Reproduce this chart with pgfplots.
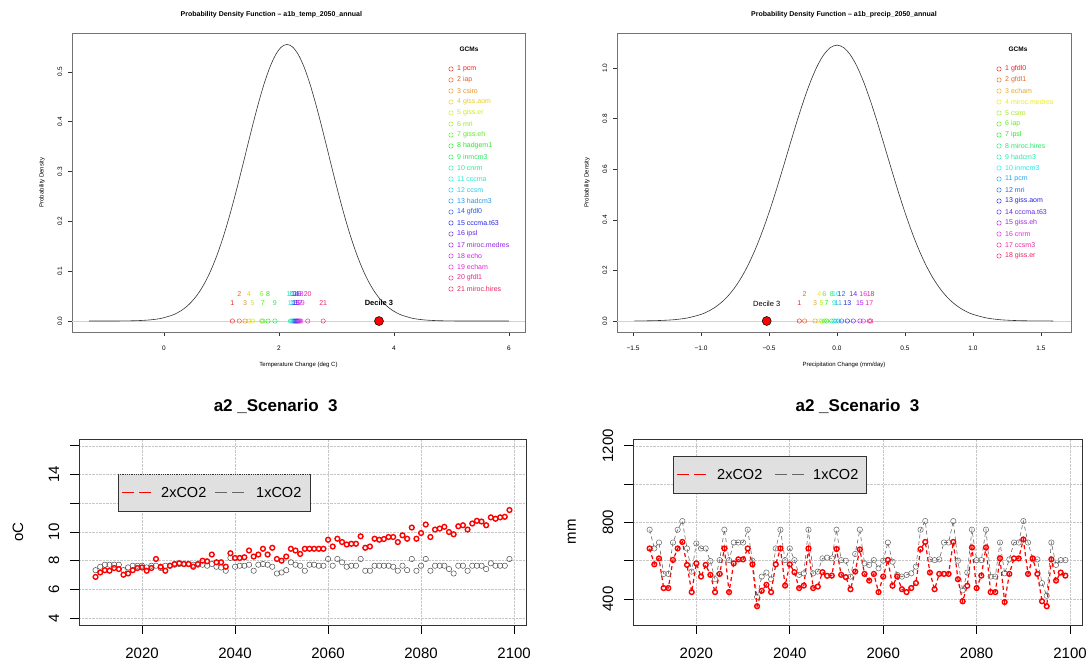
\documentclass[border=0pt]{standalone}
\usepackage{fontspec}
\setmainfont{Liberation Sans}
\usepackage[rgb]{xcolor}
\usepackage{pgfplots}
\usepackage{pgfplotstable}
\pgfplotsset{compat=1.18}

% rainbow colours for the GCM points (R's rainbow())
\foreach \i in {1,...,21}{\pgfmathsetmacro\hh{(\i-1)/21}%
  \edef\tmp{\noexpand\xglobal\noexpand\definecolor{L\i}{hsb}{\hh,0.85,0.92}}\tmp}
\foreach \i in {1,...,18}{\pgfmathsetmacro\hh{(\i-1)/18}%
  \edef\tmp{\noexpand\xglobal\noexpand\definecolor{R\i}{hsb}{\hh,0.85,0.92}}\tmp}

\newcommand\gpt[4]{% colour, value, label, label height
  \addplot[only marks, mark=o, mark size=2.2pt, line width=0.45pt, color=#1] coordinates {(#2,0)};
  \node[text=#1, font=\fontsize{7}{8}\selectfont, inner sep=0pt, yshift=#4] at (axis cs:#2,0) {#3};}

\pgfplotstableread{
year t2 t1
2010 6.87 7.34
2011 7.18 7.58
2012 7.34 7.72
2013 7.30 7.72
2014 7.49 7.72
2015 7.42 7.72
2016 7.02 7.34
2017 7.11 7.53
2018 7.34 7.65
2019 7.49 7.65
2020 7.53 7.65
2021 7.30 7.53
2022 7.49 7.65
2023 8.12 7.65
2024 7.58 7.49
2025 7.30 7.65
2026 7.65 7.65
2027 7.77 7.72
2028 7.82 7.77
2029 7.77 7.77
2030 7.77 7.77
2031 7.58 7.72
2032 7.77 7.72
2033 8.00 7.72
2034 7.96 7.65
2035 8.43 7.77
2036 7.89 7.58
2037 7.89 7.53
2038 7.58 7.30
2039 8.52 8.19
2040 8.19 7.58
2041 8.19 7.65
2042 8.24 7.65
2043 8.71 7.72
2044 8.29 7.30
2045 8.43 7.72
2046 8.83 7.77
2047 8.43 7.72
2048 8.90 7.58
2049 8.12 7.11
2050 8.00 7.18
2051 8.29 7.34
2052 8.83 7.89
2053 8.71 7.72
2054 8.47 7.65
2055 8.83 7.30
2056 8.83 7.72
2057 8.83 7.72
2058 8.83 7.65
2059 8.83 7.65
2060 9.46 8.12
2061 8.99 7.65
2062 9.53 8.12
2063 9.30 7.89
2064 9.13 7.58
2065 9.18 7.65
2066 9.18 7.65
2067 9.70 8.12
2068 8.90 7.30
2069 8.99 7.30
2070 9.53 7.65
2071 9.46 7.65
2072 9.51 7.65
2073 9.65 7.65
2074 9.65 7.58
2075 9.30 7.30
2076 9.77 7.65
2077 9.53 7.34
2078 10.31 8.12
2079 9.53 7.30
2080 9.93 7.65
2081 10.52 8.12
2082 9.65 7.30
2083 10.17 7.65
2084 10.24 7.65
2085 10.36 7.65
2086 10.00 7.42
2087 9.84 7.11
2088 10.40 7.65
2089 10.47 7.65
2090 10.17 7.30
2091 10.59 7.65
2092 10.78 7.65
2093 10.73 7.65
2094 10.47 7.42
2095 11.02 7.82
2096 10.92 7.65
2097 11.02 7.65
2098 11.06 7.65
2099 11.53 8.12
}\tempdata

\pgfplotstableread{
year p2 p1
2010 664 762
2011 581 664
2012 612 695
2013 457 531
2014 457 531
2015 604 695
2016 664 762
2017 698 807
2018 578 664
2019 436 543
2020 586 690
2021 517 664
2022 578 664
2023 526 598
2024 436 503
2025 531 603
2026 664 762
2027 436 603
2028 586 695
2029 607 695
2030 607 695
2031 664 762
2032 581 600
2033 362 410
2034 443 517
2035 474 538
2036 436 503
2037 581 664
2038 664 762
2039 470 603
2040 581 664
2041 540 603
2042 457 526
2043 470 534
2044 664 762
2045 457 534
2046 465 543
2047 540 612
2048 521 616
2049 522 612
2050 661 762
2051 526 603
2052 514 600
2053 451 517
2054 543 635
2055 659 762
2056 531 586
2057 496 578
2058 531 603
2059 436 560
2060 517 600
2061 604 695
2062 469 595
2063 517 526
2064 451 517
2065 436 526
2066 457 534
2067 483 569
2068 661 762
2069 698 807
2070 538 607
2071 451 603
2072 531 607
2073 531 695
2074 531 695
2075 698 807
2076 503 600
2077 388 445
2078 469 538
2079 669 762
2080 457 603
2081 522 603
2082 669 762
2083 436 517
2084 436 517
2085 612 695
2086 384 534
2087 531 607
2088 612 695
2089 612 695
2090 711 807
2091 531 695
2092 612 607
2093 531 607
2094 388 483
2095 362 417
2096 607 695
2097 496 578
2098 538 603
2099 522 603
}\precdata

\pgfplotsset{
  pdfpanel/.style={
    scale only axis, anchor=south west, clip=false,
    axis line style={black!55, line width=0.5pt},
    xtick pos=bottom, ytick pos=left, tick align=outside,
    major tick length=4pt, tick style={black!80, line width=0.5pt},
    tick label style={font=\fontsize{6.5}{7}\selectfont},
    xticklabel style={anchor=center, yshift=-12pt},
    yticklabel style={anchor=center, xshift=-8pt, rotate=90},
    xlabel style={at={(axis description cs:0.5,-0.11)}, anchor=center, font=\fontsize{6}{7}\selectfont},
    ylabel style={at={(axis description cs:-0.066,0.5)}, anchor=center, font=\fontsize{6}{7}\selectfont},
    title style={at={(axis description cs:0.5,1.04)}, anchor=center, font=\bfseries\fontsize{7}{8}\selectfont},
  },
  scenpanel/.style={
    scale only axis, anchor=south west, width=447pt, height=186pt,
    xmin=2006.44, xmax=2102.56,
    xtick={2020,2040,2060,2080,2100}, xticklabels={2020,2040,2060,2080,2100},
    grid=major, grid style={densely dotted, black!22, line width=0.6pt},
    axis line style={black!80, line width=0.9pt},
    xtick pos=bottom, ytick pos=left, tick align=outside,
    major tick length=9pt, tick style={black, line width=0.8pt},
    tick label style={font=\fontsize{15}{16}\selectfont},
    xticklabel style={anchor=center, yshift=-19pt},
    yticklabel style={anchor=center, xshift=-16pt, rotate=90},
    ylabel style={at={(axis description cs:-0.1365,0.5)}, anchor=center, font=\fontsize{15}{16}\selectfont},
    title style={at={(axis description cs:0.5,1.145)}, anchor=center, font=\bfseries\fontsize{17}{19}\selectfont},
  },
}

\begin{document}
\begin{tikzpicture}[x=1pt,y=1pt]
\useasboundingbox (0,0) rectangle (1091,668);
\fill[white] (0,0) rectangle (1091,668);

% ---------- PDF of temperature change
\begin{axis}[pdfpanel, at={(72pt,336pt)}, width=453pt, height=299pt,
  xmin=-1.6, xmax=6.28, ymin=-0.022, ymax=0.578,
  xtick={0,2,4,6}, xticklabels={0,2,4,6},
  ytick={0,0.1,0.2,0.3,0.4,0.5}, yticklabels={0.0,0.1,0.2,0.3,0.4,0.5},
  xlabel={Temperature Change (deg C)}, ylabel={Probability Density},
  title style={at={(axis description cs:0.44,1.04)}},
  title={Probability Density Function – a1b\_temp\_2050\_annual}]
\addplot[gray!35, line width=0.5pt] coordinates {(-1.6,0) (6.28,0)};
\addplot[black!80, line width=0.6pt, smooth] coordinates {
(-1.30,0) (-0.86,0.0001) (-0.66,0.0003) (-0.46,0.0008) (-0.26,0.0021) (-0.06,0.0051)
(0.14,0.0116) (0.24,0.0169) (0.34,0.0241) (0.44,0.0339) (0.54,0.0466) (0.64,0.0629)
(0.74,0.0833) (0.84,0.1082) (0.94,0.1378) (1.04,0.1721) (1.14,0.2109) (1.24,0.2535)
(1.34,0.2988) (1.44,0.3454) (1.54,0.3917) (1.64,0.4357) (1.74,0.4754) (1.84,0.5087)
(1.94,0.5339) (2.04,0.5497) (2.14,0.5550) (2.24,0.5497) (2.34,0.5339) (2.44,0.5087)
(2.54,0.4754) (2.64,0.4357) (2.74,0.3917) (2.84,0.3454) (2.94,0.2988) (3.04,0.2535)
(3.14,0.2109) (3.24,0.1721) (3.34,0.1378) (3.44,0.1082) (3.54,0.0833) (3.64,0.0629)
(3.74,0.0466) (3.84,0.0339) (3.94,0.0241) (4.04,0.0169) (4.14,0.0116) (4.34,0.0051)
(4.54,0.0021) (4.74,0.0008) (4.94,0.0003) (5.14,0.0001) (5.50,0) (6.00,0)};
\gpt{L1}{1.19}{1}{18pt}
\gpt{L2}{1.31}{2}{27pt}
\gpt{L3}{1.41}{3}{18pt}
\gpt{L4}{1.48}{4}{27pt}
\gpt{L5}{1.54}{5}{18pt}
\gpt{L6}{1.70}{6}{27pt}
\gpt{L7}{1.72}{7}{18pt}
\gpt{L8}{1.81}{8}{27pt}
\gpt{L9}{1.93}{9}{18pt}
\gpt{L10}{2.20}{10}{27pt}
\gpt{L11}{2.22}{11}{18pt}
\gpt{L12}{2.24}{12}{27pt}
\gpt{L13}{2.26}{13}{18pt}
\gpt{L14}{2.28}{14}{27pt}
\gpt{L15}{2.30}{15}{18pt}
\gpt{L16}{2.32}{16}{27pt}
\gpt{L17}{2.34}{17}{18pt}
\gpt{L18}{2.36}{18}{27pt}
\gpt{L19}{2.38}{19}{18pt}
\gpt{L20}{2.50}{20}{27pt}
\gpt{L21}{2.77}{21}{18pt}
\addplot[only marks, mark=*, mark size=4.5pt, mark options={fill=red, draw=black, line width=0.5pt}] coordinates {(3.74,0)};
\node[font=\bfseries\fontsize{7.5}{8}\selectfont, yshift=18pt] at (axis cs:3.74,0) {Decile 3};
\end{axis}

\node[font=\bfseries\fontsize{6.5}{7}\selectfont] at (469,619) {GCMs};
\foreach \n [count=\i] in {pcm,iap,csiro,giss.aom,giss.er,mri,giss.eh,hadgem1,inmcm3,cnrm,cccma,ccsm,hadcm3,gfdl0,cccma.t63,ipsl,miroc.medres,echo,echam,gfdl1,miroc.hires}{
  \draw[L\i, line width=0.45pt] (451,{599-11*(\i-1)}) circle (2.2pt);
  \node[anchor=west, text=L\i, inner sep=0pt, font=\fontsize{7}{8}\selectfont] at (457,{599-11*(\i-1)}) {\i\ \n};}

% ---------- PDF of precipitation change
\begin{axis}[pdfpanel, at={(617pt,336pt)}, width=454pt, height=299pt,
  xmin=-1.618, xmax=1.721, ymin=-0.0435, ymax=1.138,
  xtick={-1.5,-1,-0.5,0,0.5,1,1.5}, xticklabels={−1.5,−1.0,−0.5,0.0,0.5,1.0,1.5},
  ytick={0,0.2,0.4,0.6,0.8,1.0}, yticklabels={0.0,0.2,0.4,0.6,0.8,1.0},
  xlabel={Precipitation Change (mm/day)}, ylabel={Probability Density},
  title={Probability Density Function – a1b\_precip\_2050\_annual}]
\addplot[gray!35, line width=0.5pt] coordinates {(-1.618,0) (1.721,0)};
\addplot[black!80, line width=0.6pt, smooth] coordinates {
(-1.49,0.0002) (-1.40,0.0007) (-1.30,0.0020) (-1.20,0.0050) (-1.10,0.0119) (-1.00,0.0261)
(-0.95,0.0375) (-0.90,0.0530) (-0.85,0.0735) (-0.80,0.1000) (-0.75,0.1335) (-0.70,0.1750)
(-0.65,0.2252) (-0.60,0.2843) (-0.55,0.3524) (-0.50,0.4287) (-0.45,0.5119) (-0.40,0.5998)
(-0.35,0.6900) (-0.30,0.7790) (-0.25,0.8632) (-0.20,0.9388) (-0.15,1.0022) (-0.10,1.0501)
(-0.05,1.0799) (0.00,1.0900) (0.05,1.0799) (0.10,1.0501) (0.15,1.0022) (0.20,0.9388)
(0.25,0.8632) (0.30,0.7790) (0.35,0.6900) (0.40,0.5998) (0.45,0.5119) (0.50,0.4287)
(0.55,0.3524) (0.60,0.2843) (0.65,0.2252) (0.70,0.1750) (0.75,0.1335) (0.80,0.1000)
(0.85,0.0735) (0.90,0.0530) (0.95,0.0375) (1.00,0.0261) (1.10,0.0119) (1.20,0.0050)
(1.30,0.0020) (1.40,0.0007) (1.59,0.0001)};
\gpt{R1}{-0.277}{1}{18pt}
\gpt{R2}{-0.238}{2}{27pt}
\gpt{R3}{-0.162}{3}{18pt}
\gpt{R4}{-0.130}{4}{27pt}
\gpt{R5}{-0.113}{5}{18pt}
\gpt{R6}{-0.093}{6}{27pt}
\gpt{R7}{-0.076}{7}{18pt}
\gpt{R8}{-0.039}{8}{27pt}
\gpt{R9}{-0.022}{9}{18pt}
\gpt{R10}{-0.007}{10}{27pt}
\gpt{R11}{0.010}{11}{18pt}
\gpt{R12}{0.034}{12}{27pt}
\gpt{R13}{0.076}{13}{18pt}
\gpt{R14}{0.120}{14}{27pt}
\gpt{R15}{0.169}{15}{18pt}
\gpt{R16}{0.194}{16}{27pt}
\gpt{R17}{0.238}{17}{18pt}
\gpt{R18}{0.248}{18}{27pt}
\addplot[only marks, mark=*, mark size=4.5pt, mark options={fill=red, draw=black, line width=0.5pt}] coordinates {(-0.517,0)};
\node[font=\fontsize{7.5}{8}\selectfont, yshift=17pt] at (axis cs:-0.517,0) {Decile 3};
\end{axis}

\node[font=\bfseries\fontsize{6.5}{7}\selectfont] at (1018,619) {GCMs};
\foreach \n [count=\i] in {gfdl0,gfdl1,echam,miroc.medres,csiro,iap,ipsl,miroc.hires,hadcm3,inmcm3,pcm,mri,giss.aom,cccma.t63,giss.eh,cnrm,ccsm3,giss.er}{
  \draw[R\i, line width=0.45pt] (999,{599-11*(\i-1)}) circle (2.2pt);
  \node[anchor=west, text=R\i, inner sep=0pt, font=\fontsize{7}{8}\selectfont] at (1005,{599-11*(\i-1)}) {\i\ \n};}

% ---------- temperature scenario
\begin{axis}[scenpanel, at={(79pt,43pt)},
  ymin=3.52, ymax=16.48,
  ytick={4,6,8,10,12,14,16}, yticklabels={4,6,8,10,,14,},
  title style={at={(axis description cs:0.44,1.145)}},
  ylabel={oC}, title={a2 \_Scenario~ 3}]
\addplot[only marks, mark=o, mark size=2.7pt, black!70, line width=0.5pt] table[x=year, y=t1] {\tempdata};
\addplot[only marks, mark=o, mark size=2.4pt, red, line width=1.4pt] table[x=year, y=t2] {\tempdata};
\end{axis}
\fill[black!12] (118,194) rectangle (310,157);
\draw[black!80, line width=0.8pt] (118,194) -- (118,157) -- (310,157) -- (310,194);
\draw[black!80, line width=0.8pt, densely dotted] (118,194) -- (310,194);
\draw[red, line width=1pt, dash pattern=on 12pt off 5pt] (122,175.5) -- (151,175.5);
\node[anchor=west, inner sep=0pt, font=\fontsize{14.5}{16}\selectfont] at (161,175.5) {2xCO2};
\draw[black!60, line width=1pt, dash pattern=on 12pt off 5pt] (215,175.5) -- (244,175.5);
\node[anchor=west, inner sep=0pt, font=\fontsize{14.5}{16}\selectfont] at (256,175.5) {1xCO2};

% ---------- precipitation scenario
\begin{axis}[scenpanel, at={(633pt,43pt)}, width=449pt,
  ymin=264, ymax=1236,
  ytick={400,600,800,1000,1200}, yticklabels={400,,800,,1200},
  ylabel={mm}, title={a2 \_Scenario~ 3}]
\addplot[black!60, line width=0.6pt, dash pattern=on 4pt off 3pt, mark=o, mark size=2.7pt,
  mark options={solid, fill=white, line width=0.5pt}] table[x=year, y=p1] {\precdata};
\addplot[red, line width=1.2pt, dash pattern=on 4pt off 3pt, mark=o, mark size=2.4pt,
  mark options={solid, fill=white, line width=1.4pt}] table[x=year, y=p2] {\precdata};
\end{axis}
\draw[black!80, fill=black!12, line width=0.8pt] (673,212) rectangle (866,175);
\draw[red, line width=1pt, dash pattern=on 12pt off 5pt] (677,193.5) -- (706,193.5);
\node[anchor=west, inner sep=0pt, font=\fontsize{14.5}{16}\selectfont] at (717,193.5) {2xCO2};
\draw[black!60, line width=1pt, dash pattern=on 12pt off 5pt] (775,193.5) -- (804,193.5);
\node[anchor=west, inner sep=0pt, font=\fontsize{14.5}{16}\selectfont] at (813,193.5) {1xCO2};
\end{tikzpicture}
\end{document}
